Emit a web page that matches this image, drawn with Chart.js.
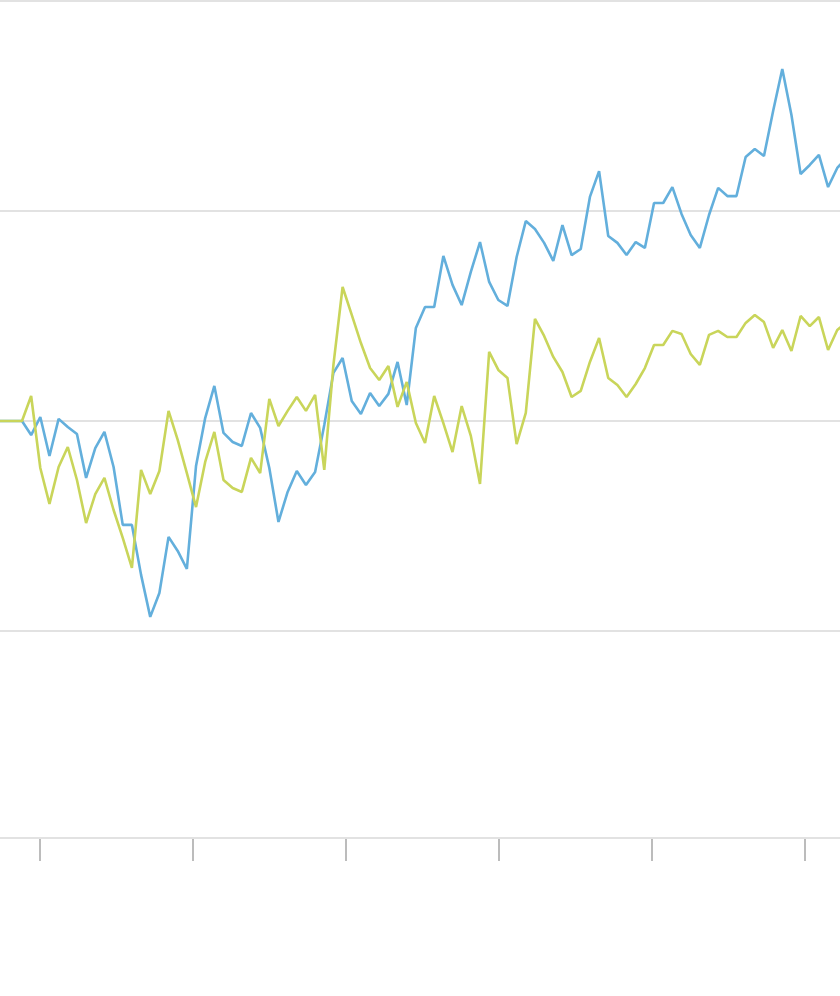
<!DOCTYPE html>
<html>
<head>
<meta charset="utf-8">
<title>Line chart</title>
<script src="https://cdn.jsdelivr.net/npm/chart.js@4/dist/chart.umd.min.js"></script>
<style>
  html, body { margin: 0; padding: 0; background: #fff; }
  #wrap { width: 840px; height: 996px; }
</style>
</head>
<body>
<div id="wrap"><canvas id="chart" width="840" height="996"></canvas></div>
<script>
// Periods (index), first three are the flat start
const periods = [-3,-2,-1,0,1,2,3,4,5,6,7,8,9,10,11,12,13,14,15,16,17,18,19,20,21,22,23,24,25,26,27,28,29,30,
  31,32,33,34,35,36,37,38,39,40,41,42,43,44,45,46,47,48,49,50,51,52,53,54,55,56,57,58,59,60,
  61,62,63,64,65,66,67,68,69,70,71,72,73,74,75,76,77,78,79,80,81,82,83,84,85,86,87,88,89,90];

// % change, blue series
const blueValues = [0,0,0,0,-0.67,0.19,-1.67,0.10,-0.29,-0.62,-2.71,-1.29,-0.52,-2.19,-4.95,-4.95,-7.33,-9.33,-8.19,-5.52,
  -6.19,-7.05,-2.14,0.14,1.67,-0.57,-1.00,-1.19,0.38,-0.33,-2.24,-4.81,-3.38,-2.38,-3.05,-2.43,-0.19,2.29,3.00,0.95,
  0.33,1.33,0.71,1.29,2.81,0.76,4.43,5.43,5.43,7.86,6.48,5.52,7.10,8.52,6.62,5.76,5.48,7.81,9.52,9.14,
  8.48,7.62,9.33,7.90,8.19,10.67,11.90,8.81,8.48,7.90,8.52,8.24,10.38,10.38,11.14,9.86,8.86,8.24,9.81,11.10,
  10.71,10.71,12.57,12.95,12.62,14.76,16.76,14.57,11.76,12.19,12.67,11.14,12.05,12.52];

// % change, green series
const greenValues = [0,0,0,0,1.19,-2.24,-3.95,-2.19,-1.24,-2.81,-4.86,-3.48,-2.71,-4.24,-5.57,-7.00,-2.33,-3.48,-2.38,0.48,
  -0.90,-2.48,-4.10,-1.95,-0.52,-2.81,-3.19,-3.38,-1.76,-2.48,1.05,-0.24,0.48,1.14,0.48,1.24,-2.33,2.67,6.38,5.05,
  3.71,2.52,1.95,2.62,0.67,1.86,-0.10,-1.05,1.19,-0.10,-1.48,0.71,-0.71,-3.00,3.29,2.43,2.05,-1.10,0.38,4.86,
  4.05,3.05,2.33,1.14,1.43,2.81,3.95,2.05,1.71,1.14,1.76,2.52,3.62,3.62,4.29,4.14,3.19,2.67,4.10,4.29,
  4.00,4.00,4.67,5.05,4.71,3.48,4.33,3.33,5.00,4.52,4.95,3.38,4.33,4.71];

// axis ticks
const xTicks = [1.97, 18.67, 35.37, 52.07, 68.78, 85.48];
const yTicks = [-10, 0, 10, 20];

const toPoints = vals => vals.map((v, i) => ({x: periods[i], y: v}));

new Chart(document.getElementById('chart'), {
  type: 'line',
  data: {
    datasets: [
      {
        label: 'Green',
        data: toPoints(greenValues),
        borderColor: '#c9d55a',
        borderWidth: 2.6,
        borderJoinStyle: 'bevel',
        pointRadius: 0,
        tension: 0,
        fill: false
      },
      {
        label: 'Blue',
        data: toPoints(blueValues),
        borderColor: '#63afdc',
        borderWidth: 2.6,
        borderJoinStyle: 'bevel',
        pointRadius: 0,
        tension: 0,
        fill: false
      }
    ]
  },
  options: {
    responsive: false,
    animation: false,
    layout: {padding: {top: 1, left: 0, right: 0, bottom: 0}},
    plugins: {legend: {display: false}, tooltip: {enabled: false}},
    scales: {
      x: {
        type: 'linear',
        min: -2.4,
        max: 89.3,
        afterBuildTicks: s => { s.ticks = xTicks.map(v => ({value: v})); },
        afterFit: s => { s.height = 158; },
        ticks: {display: false},
        grid: {drawOnChartArea: false, drawTicks: true, tickLength: 23, color: '#bcbcbc', lineWidth: 2},
        border: {display: true, color: '#e2e2e2', width: 2}
      },
      y: {
        min: -19.86,
        max: 20,
        afterBuildTicks: s => { s.ticks = yTicks.map(v => ({value: v})); },
        afterFit: s => { s.width = 0; },
        ticks: {display: false},
        grid: {color: '#e2e2e2', lineWidth: 2, drawTicks: false},
        border: {display: false}
      }
    }
  }
});
</script>
</body>
</html>
